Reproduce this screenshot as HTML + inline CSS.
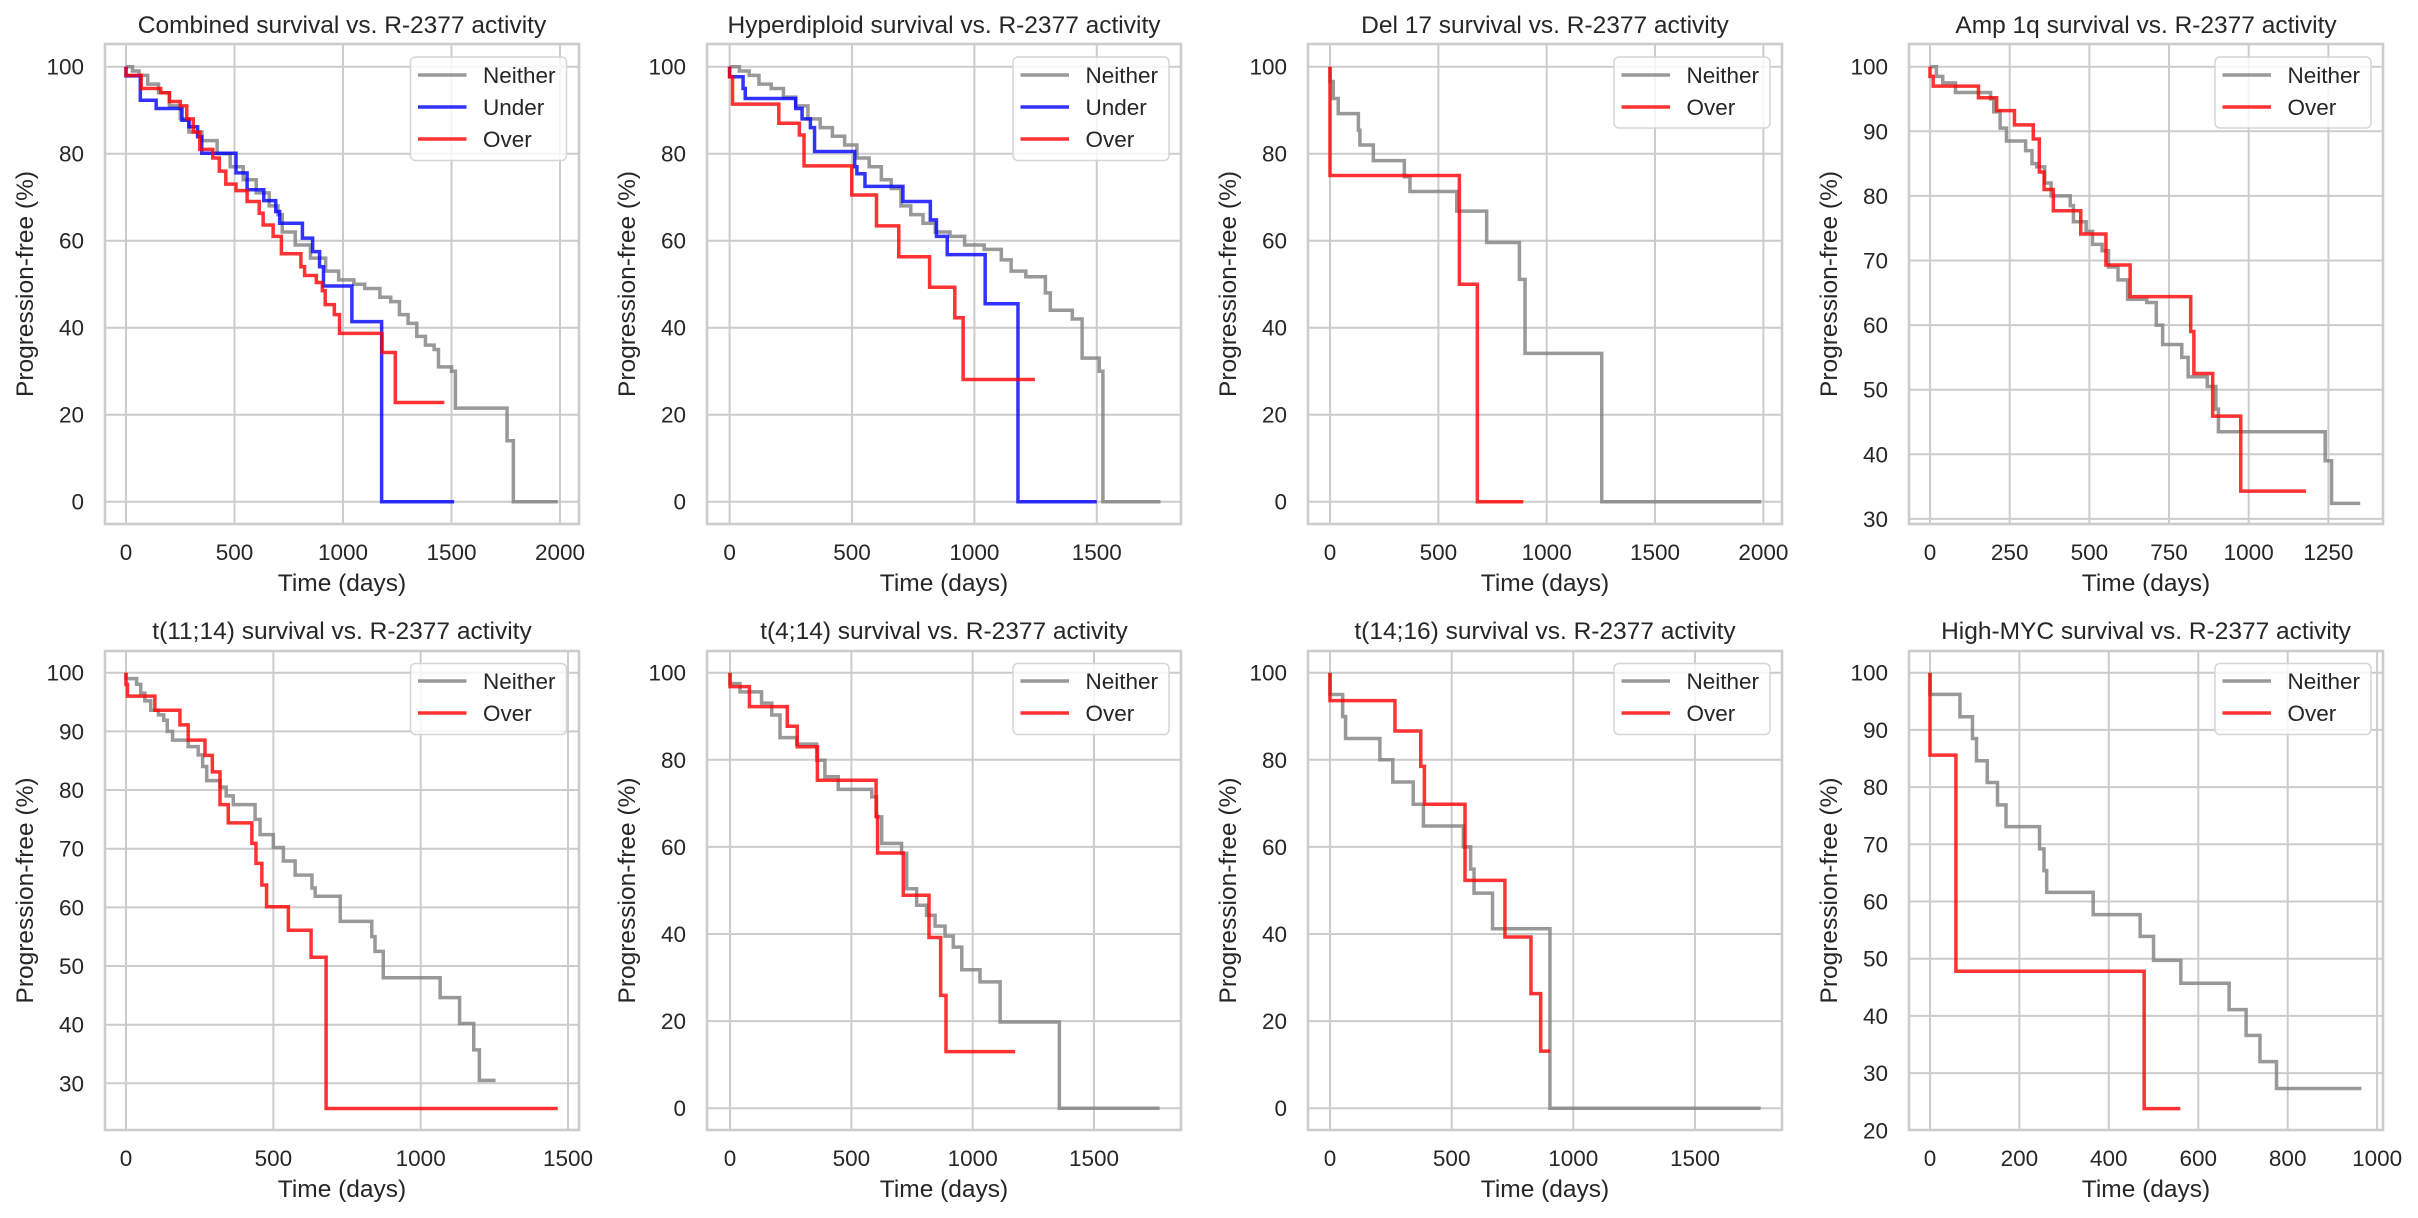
<!DOCTYPE html>
<html><head><meta charset="utf-8"><style>
html,body{margin:0;padding:0;background:#fff;}
svg{display:block;}
text{font-family:"Liberation Sans",Arial,sans-serif;fill:#262626;}
.t{font-size:24.5px;text-anchor:middle;}
.xl{font-size:24.5px;text-anchor:middle;}
.xt{font-size:22.5px;text-anchor:middle;}
.yt{font-size:22.5px;text-anchor:end;}
.lg{font-size:22.5px;}
.g line{stroke:#cccccc;stroke-width:2;}
.fr{fill:none;stroke:#cccccc;stroke-width:2.6;}
.c{fill:none;stroke-width:3.5;stroke-opacity:0.8;vector-effect:non-scaling-stroke;}
.gr{stroke:#808080;} .bl{stroke:#0000ff;} .rd{stroke:#ff0000;}
.lb{fill:#fff;fill-opacity:0.8;stroke:#d6d6d6;stroke-width:1.5;}
.h{stroke-width:3.5;stroke-opacity:0.8;}
</style></head><body>
<svg width="2418" height="1218" viewBox="0 0 2418 1218" xmlns="http://www.w3.org/2000/svg">
<rect width="2418" height="1218" fill="#fff"/>

<!-- ================= P1 ================= -->
<g class="g">
<line x1="126" y1="44" x2="126" y2="524"/><line x1="234.5" y1="44" x2="234.5" y2="524"/><line x1="343" y1="44" x2="343" y2="524"/><line x1="451.5" y1="44" x2="451.5" y2="524"/><line x1="560" y1="44" x2="560" y2="524"/>
<line x1="105" y1="66.7" x2="579" y2="66.7"/><line x1="105" y1="153.7" x2="579" y2="153.7"/><line x1="105" y1="240.7" x2="579" y2="240.7"/><line x1="105" y1="327.7" x2="579" y2="327.7"/><line x1="105" y1="414.7" x2="579" y2="414.7"/><line x1="105" y1="501.7" x2="579" y2="501.7"/>
</g>
<g transform="translate(126,501.7) scale(0.217,4.35)">
<path class="c gr" d="M0,-100 H30 V-99 H60 V-98 H100 V-96 H150 V-94 H200 V-91 H250 V-88 H290 V-85 H350 V-83 H420 V-80 H480 V-77 H540 V-74 H600 V-71 H660 V-68 H700 V-66 H720 V-62 H780 V-59 H850 V-56 H920 V-53 H980 V-51 H1050 V-50 H1100 V-49 H1170 V-47 H1220 V-46 H1260 V-43 H1300 V-41 H1340 V-38 H1380 V-36 H1420 V-35 H1440 V-31 H1500 V-30 H1518 V-21.5 H1756 V-14 H1785 V0 H1990"/>
<path class="c bl" d="M0,-100 V-97.9 H66 V-92.3 H139 V-90.4 H258 V-87.7 H290 V-86.2 H330 V-83.9 H349 V-80.1 H507 V-75.6 H558 V-71.7 H635 V-69.2 H690 V-66.7 H708 V-64 H813 V-60.6 H860 V-57.5 H892 V-54 H910 V-49.6 H1041 V-41.4 H1178 V0 H1512"/>
<path class="c rd" d="M0,-100 V-98 H70 V-95 H160 V-94 H200 V-92 H250 V-91 H280 V-88 H310 V-85 H340 V-81 H400 V-79 H430 V-76 H460 V-73 H507 V-71.5 H558 V-69 H614 V-66.3 H632 V-63.6 H678 V-61 H716 V-57 H806 V-54 H823 V-52 H877 V-50.4 H905 V-48.5 H918 V-45.3 H960 V-43 H984 V-38.7 H1180 V-34.3 H1241 V-22.8 H1467"/>
</g>
<rect class="fr" x="105" y="44" width="474" height="480"/>
<rect class="lb" x="410.5" y="57" width="156" height="103.5" rx="5"/>
<line class="h" x1="418" y1="75" x2="466.5" y2="75" stroke="#808080"/><text class="lg" x="483" y="83">Neither</text>
<line class="h" x1="418" y1="107" x2="466.5" y2="107" stroke="#0000ff"/><text class="lg" x="483" y="115">Under</text>
<line class="h" x1="418" y1="139" x2="466.5" y2="139" stroke="#ff0000"/><text class="lg" x="483" y="147">Over</text>
<text class="t" x="342" y="33">Combined survival vs. R-2377 activity</text>
<text class="xt" x="126" y="560">0</text><text class="xt" x="234.5" y="560">500</text><text class="xt" x="343" y="560">1000</text><text class="xt" x="451.5" y="560">1500</text><text class="xt" x="560" y="560">2000</text>
<text class="yt" x="84" y="74.7">100</text><text class="yt" x="84" y="161.7">80</text><text class="yt" x="84" y="248.7">60</text><text class="yt" x="84" y="335.7">40</text><text class="yt" x="84" y="422.7">20</text><text class="yt" x="84" y="509.7">0</text>
<text class="xl" x="342" y="591">Time (days)</text>
<text class="xl" transform="translate(33,284) rotate(-90)">Progression-free (%)</text>

<!-- ================= P2 ================= -->
<g class="g">
<line x1="729.6" y1="44" x2="729.6" y2="524"/><line x1="852" y1="44" x2="852" y2="524"/><line x1="974.4" y1="44" x2="974.4" y2="524"/><line x1="1096.8" y1="44" x2="1096.8" y2="524"/>
<line x1="707" y1="66.7" x2="1181" y2="66.7"/><line x1="707" y1="153.7" x2="1181" y2="153.7"/><line x1="707" y1="240.7" x2="1181" y2="240.7"/><line x1="707" y1="327.7" x2="1181" y2="327.7"/><line x1="707" y1="414.7" x2="1181" y2="414.7"/><line x1="707" y1="501.7" x2="1181" y2="501.7"/>
</g>
<g transform="translate(729.6,501.7) scale(0.2448,4.35)">
<path class="c gr" d="M0,-100 H40 V-99 H80 V-98 H120 V-96 H170 V-95 H220 V-93 H270 V-91 H320 V-88 H370 V-86 H420 V-84 H470 V-82 H520 V-79 H570 V-77 H620 V-74 H660 V-72 H700 V-68 H740 V-66 H790 V-64 H840 V-62 H900 V-61 H960 V-59 H1040 V-58 H1110 V-55.6 H1150 V-53 H1210 V-51.7 H1290 V-48 H1310 V-44 H1400 V-42 H1440 V-33 H1510 V-30 H1525 V0 H1760"/>
<path class="c bl" d="M0,-100 V-97.7 H55 V-95 H64 V-92.7 H270 V-90.4 H296 V-88 H330 V-86 H347 V-80.5 H511 V-77 H520 V-75.4 H553 V-72.5 H708 V-69 H820 V-64.8 H845 V-61 H889 V-56.8 H1044 V-45.5 H1178 V0 H1500"/>
<path class="c rd" d="M0,-100 V-97.7 H12 V-91.4 H201 V-87 H285 V-84.3 H304 V-77.2 H499 V-70.5 H600 V-63.4 H691 V-56.3 H817 V-49.3 H920 V-42.3 H954 V-28.1 H1247"/>
</g>
<rect class="fr" x="707" y="44" width="474" height="480"/>
<rect class="lb" x="1013" y="57" width="156" height="103.5" rx="5"/>
<line class="h" x1="1020.5" y1="75" x2="1069" y2="75" stroke="#808080"/><text class="lg" x="1085.5" y="83">Neither</text>
<line class="h" x1="1020.5" y1="107" x2="1069" y2="107" stroke="#0000ff"/><text class="lg" x="1085.5" y="115">Under</text>
<line class="h" x1="1020.5" y1="139" x2="1069" y2="139" stroke="#ff0000"/><text class="lg" x="1085.5" y="147">Over</text>
<text class="t" x="944" y="33">Hyperdiploid survival vs. R-2377 activity</text>
<text class="xt" x="729.6" y="560">0</text><text class="xt" x="852" y="560">500</text><text class="xt" x="974.4" y="560">1000</text><text class="xt" x="1096.8" y="560">1500</text>
<text class="yt" x="686" y="74.7">100</text><text class="yt" x="686" y="161.7">80</text><text class="yt" x="686" y="248.7">60</text><text class="yt" x="686" y="335.7">40</text><text class="yt" x="686" y="422.7">20</text><text class="yt" x="686" y="509.7">0</text>
<text class="xl" x="944" y="591">Time (days)</text>
<text class="xl" transform="translate(635,284) rotate(-90)">Progression-free (%)</text>

<!-- ================= P3 ================= -->
<g class="g">
<line x1="1330" y1="44" x2="1330" y2="524"/><line x1="1438.4" y1="44" x2="1438.4" y2="524"/><line x1="1546.7" y1="44" x2="1546.7" y2="524"/><line x1="1655" y1="44" x2="1655" y2="524"/><line x1="1763.4" y1="44" x2="1763.4" y2="524"/>
<line x1="1308" y1="66.7" x2="1782" y2="66.7"/><line x1="1308" y1="153.7" x2="1782" y2="153.7"/><line x1="1308" y1="240.7" x2="1782" y2="240.7"/><line x1="1308" y1="327.7" x2="1782" y2="327.7"/><line x1="1308" y1="414.7" x2="1782" y2="414.7"/><line x1="1308" y1="501.7" x2="1782" y2="501.7"/>
</g>
<g transform="translate(1330,501.7) scale(0.2167,4.35)">
<path class="c gr" d="M0,-100 V-96.6 H15 V-92.7 H38 V-89.2 H131 V-85.4 H138 V-82 H200 V-78.4 H343 V-74.7 H369 V-71.3 H585 V-66.8 H723 V-59.6 H874 V-51.1 H900 V-34.1 H1254 V0 H1990"/>
<path class="c rd" d="M0,-100 V-75 H597 V-50 H680 V0 H892"/>
</g>
<rect class="fr" x="1308" y="44" width="474" height="480"/>
<rect class="lb" x="1614" y="57" width="156" height="71" rx="5"/>
<line class="h" x1="1621.5" y1="75" x2="1670" y2="75" stroke="#808080"/><text class="lg" x="1686.5" y="83">Neither</text>
<line class="h" x1="1621.5" y1="107" x2="1670" y2="107" stroke="#ff0000"/><text class="lg" x="1686.5" y="115">Over</text>
<text class="t" x="1545" y="33">Del 17 survival vs. R-2377 activity</text>
<text class="xt" x="1330" y="560">0</text><text class="xt" x="1438.4" y="560">500</text><text class="xt" x="1546.7" y="560">1000</text><text class="xt" x="1655" y="560">1500</text><text class="xt" x="1763.4" y="560">2000</text>
<text class="yt" x="1287" y="74.7">100</text><text class="yt" x="1287" y="161.7">80</text><text class="yt" x="1287" y="248.7">60</text><text class="yt" x="1287" y="335.7">40</text><text class="yt" x="1287" y="422.7">20</text><text class="yt" x="1287" y="509.7">0</text>
<text class="xl" x="1545" y="591">Time (days)</text>
<text class="xl" transform="translate(1236,284) rotate(-90)">Progression-free (%)</text>

<!-- ================= P4 ================= -->
<g class="g">
<line x1="1930" y1="44" x2="1930" y2="524"/><line x1="2009.7" y1="44" x2="2009.7" y2="524"/><line x1="2089.4" y1="44" x2="2089.4" y2="524"/><line x1="2169" y1="44" x2="2169" y2="524"/><line x1="2248.7" y1="44" x2="2248.7" y2="524"/><line x1="2328.4" y1="44" x2="2328.4" y2="524"/>
<line x1="1909" y1="66.7" x2="2383" y2="66.7"/><line x1="1909" y1="131.3" x2="2383" y2="131.3"/><line x1="1909" y1="195.9" x2="2383" y2="195.9"/><line x1="1909" y1="260.5" x2="2383" y2="260.5"/><line x1="1909" y1="325.1" x2="2383" y2="325.1"/><line x1="1909" y1="389.7" x2="2383" y2="389.7"/><line x1="1909" y1="454.3" x2="2383" y2="454.3"/><line x1="1909" y1="518.9" x2="2383" y2="518.9"/>
</g>
<g transform="translate(1930,712.7) scale(0.3187,6.46)">
<path class="c gr" d="M0,-100 H20 V-98.5 H40 V-97.5 H80 V-96 H190 V-95 H200 V-93 H220 V-90.5 H240 V-88.5 H300 V-87 H320 V-85 H335 V-84.5 H360 V-82 H380 V-80 H440 V-78.5 H450 V-76 H490 V-74.5 H510 V-72.5 H540 V-71.5 H560 V-69 H590 V-67 H620 V-64 H680 V-63.5 H710 V-60 H730 V-57 H790 V-55 H810 V-52 H870 V-50.5 H897 V-47 H905 V-43.5 H1240 V-39 H1260 V-32.4 H1350"/>
<path class="c rd" d="M0,-100 V-98.5 H10 V-97 H152 V-95.2 H209 V-93.2 H265 V-91 H324 V-88.8 H343 V-83.7 H358 V-81 H387 V-77.7 H473 V-74.1 H552 V-69.3 H628 V-64.4 H818 V-59 H828 V-52.5 H887 V-45.9 H975 V-34.3 H1180"/>
</g>
<rect class="fr" x="1909" y="44" width="474" height="480"/>
<rect class="lb" x="2215" y="57" width="156" height="71" rx="5"/>
<line class="h" x1="2222.5" y1="75" x2="2271" y2="75" stroke="#808080"/><text class="lg" x="2287.5" y="83">Neither</text>
<line class="h" x1="2222.5" y1="107" x2="2271" y2="107" stroke="#ff0000"/><text class="lg" x="2287.5" y="115">Over</text>
<text class="t" x="2146" y="33">Amp 1q survival vs. R-2377 activity</text>
<text class="xt" x="1930" y="560">0</text><text class="xt" x="2009.7" y="560">250</text><text class="xt" x="2089.4" y="560">500</text><text class="xt" x="2169" y="560">750</text><text class="xt" x="2248.7" y="560">1000</text><text class="xt" x="2328.4" y="560">1250</text>
<text class="yt" x="1888" y="74.7">100</text><text class="yt" x="1888" y="139.3">90</text><text class="yt" x="1888" y="203.9">80</text><text class="yt" x="1888" y="268.5">70</text><text class="yt" x="1888" y="333.1">60</text><text class="yt" x="1888" y="397.7">50</text><text class="yt" x="1888" y="462.3">40</text><text class="yt" x="1888" y="526.9">30</text>
<text class="xl" x="2146" y="591">Time (days)</text>
<text class="xl" transform="translate(1837,284) rotate(-90)">Progression-free (%)</text>

<!-- ================= P5 ================= -->
<g class="g">
<line x1="126" y1="651" x2="126" y2="1130"/><line x1="273.4" y1="651" x2="273.4" y2="1130"/><line x1="420.7" y1="651" x2="420.7" y2="1130"/><line x1="568" y1="651" x2="568" y2="1130"/>
<line x1="105" y1="672.7" x2="579" y2="672.7"/><line x1="105" y1="731.4" x2="579" y2="731.4"/><line x1="105" y1="790" x2="579" y2="790"/><line x1="105" y1="848.7" x2="579" y2="848.7"/><line x1="105" y1="907.4" x2="579" y2="907.4"/><line x1="105" y1="966" x2="579" y2="966"/><line x1="105" y1="1024.7" x2="579" y2="1024.7"/><line x1="105" y1="1083.3" x2="579" y2="1083.3"/>
</g>
<g transform="translate(126,1259.3) scale(0.2947,5.866)">
<path class="c gr" d="M0,-100 V-99 H36 V-98 H50 V-96.5 H64 V-95.2 H84 V-93.6 H110 V-92.8 H128 V-91.9 H140 V-90 H158 V-88.5 H211 V-87.4 H245 V-86 H260 V-84 H274 V-81.6 H319 V-80.5 H340 V-79 H364 V-77.5 H438 V-75 H455 V-72.4 H500 V-70.2 H534 V-67.9 H574 V-65.5 H631 V-63.3 H642 V-61.9 H727 V-57.6 H834 V-55 H845 V-52.5 H873 V-48 H1066 V-44.6 H1132 V-40.2 H1180 V-35.7 H1199 V-30.5 H1254"/>
<path class="c rd" d="M0,-100 V-98 H5 V-96 H98 V-93.6 H183 V-91.1 H211 V-88.5 H268 V-85.9 H293 V-83.1 H319 V-77.5 H347 V-74.4 H427 V-70.9 H441 V-67.5 H461 V-63.8 H477 V-60.1 H551 V-56.1 H628 V-51.5 H679 V-25.7 H1465"/>
</g>
<rect class="fr" x="105" y="651" width="474" height="479"/>
<rect class="lb" x="410.5" y="663.5" width="156" height="71" rx="5"/>
<line class="h" x1="418" y1="681" x2="466.5" y2="681" stroke="#808080"/><text class="lg" x="483" y="689">Neither</text>
<line class="h" x1="418" y1="713" x2="466.5" y2="713" stroke="#ff0000"/><text class="lg" x="483" y="721">Over</text>
<text class="t" x="342" y="639">t(11;14) survival vs. R-2377 activity</text>
<text class="xt" x="126" y="1166">0</text><text class="xt" x="273.4" y="1166">500</text><text class="xt" x="420.7" y="1166">1000</text><text class="xt" x="568" y="1166">1500</text>
<text class="yt" x="84" y="680.7">100</text><text class="yt" x="84" y="739.4">90</text><text class="yt" x="84" y="798">80</text><text class="yt" x="84" y="856.7">70</text><text class="yt" x="84" y="915.4">60</text><text class="yt" x="84" y="974">50</text><text class="yt" x="84" y="1032.7">40</text><text class="yt" x="84" y="1091.3">30</text>
<text class="xl" x="342" y="1197">Time (days)</text>
<text class="xl" transform="translate(33,890.5) rotate(-90)">Progression-free (%)</text>

<!-- ================= P6 ================= -->
<g class="g">
<line x1="730" y1="651" x2="730" y2="1130"/><line x1="851.4" y1="651" x2="851.4" y2="1130"/><line x1="972.7" y1="651" x2="972.7" y2="1130"/><line x1="1094" y1="651" x2="1094" y2="1130"/>
<line x1="707" y1="672.7" x2="1181" y2="672.7"/><line x1="707" y1="759.8" x2="1181" y2="759.8"/><line x1="707" y1="846.9" x2="1181" y2="846.9"/><line x1="707" y1="934" x2="1181" y2="934"/><line x1="707" y1="1021.1" x2="1181" y2="1021.1"/><line x1="707" y1="1108.2" x2="1181" y2="1108.2"/>
</g>
<g transform="translate(730,1108.2) scale(0.2427,4.355)">
<path class="c gr" d="M0,-100 V-97.5 H41 V-95.6 H130 V-93 H172 V-90.3 H206 V-85.1 H275 V-83.6 H357 V-79.9 H391 V-76.1 H446 V-73.2 H584 V-71.5 H604 V-66.9 H625 V-60.8 H707 V-58.5 H728 V-50.4 H769 V-46.6 H810 V-44.3 H845 V-41.8 H886 V-39.5 H920 V-37 H955 V-31.8 H1030 V-29 H1113 V-19.8 H1357 V0 H1770"/>
<path class="c rd" d="M0,-100 V-96.8 H80 V-92.2 H236 V-87.7 H277 V-83 H360 V-75.3 H602 V-67 H608 V-58.6 H714 V-48.9 H820 V-39.2 H868 V-25.9 H890 V-13 H1175"/>
</g>
<rect class="fr" x="707" y="651" width="474" height="479"/>
<rect class="lb" x="1013" y="663.5" width="156" height="71" rx="5"/>
<line class="h" x1="1020.5" y1="681" x2="1069" y2="681" stroke="#808080"/><text class="lg" x="1085.5" y="689">Neither</text>
<line class="h" x1="1020.5" y1="713" x2="1069" y2="713" stroke="#ff0000"/><text class="lg" x="1085.5" y="721">Over</text>
<text class="t" x="944" y="639">t(4;14) survival vs. R-2377 activity</text>
<text class="xt" x="730" y="1166">0</text><text class="xt" x="851.4" y="1166">500</text><text class="xt" x="972.7" y="1166">1000</text><text class="xt" x="1094" y="1166">1500</text>
<text class="yt" x="686" y="680.7">100</text><text class="yt" x="686" y="767.8">80</text><text class="yt" x="686" y="854.9">60</text><text class="yt" x="686" y="942">40</text><text class="yt" x="686" y="1029.1">20</text><text class="yt" x="686" y="1116.2">0</text>
<text class="xl" x="944" y="1197">Time (days)</text>
<text class="xl" transform="translate(635,890.5) rotate(-90)">Progression-free (%)</text>

<!-- ================= P7 ================= -->
<g class="g">
<line x1="1330" y1="651" x2="1330" y2="1130"/><line x1="1451.7" y1="651" x2="1451.7" y2="1130"/><line x1="1573.3" y1="651" x2="1573.3" y2="1130"/><line x1="1695" y1="651" x2="1695" y2="1130"/>
<line x1="1308" y1="672.7" x2="1782" y2="672.7"/><line x1="1308" y1="759.8" x2="1782" y2="759.8"/><line x1="1308" y1="846.9" x2="1782" y2="846.9"/><line x1="1308" y1="934" x2="1782" y2="934"/><line x1="1308" y1="1021.1" x2="1782" y2="1021.1"/><line x1="1308" y1="1108.2" x2="1782" y2="1108.2"/>
</g>
<g transform="translate(1330,1108.2) scale(0.2433,4.355)">
<path class="c gr" d="M0,-100 V-95 H52 V-89.9 H64 V-84.9 H205 V-80 H258 V-74.9 H342 V-69.8 H384 V-64.8 H548 V-60 H578 V-54.9 H592 V-49.4 H668 V-41.2 H904 V0 H1770"/>
<path class="c rd" d="M0,-100 V-93.6 H267 V-86.6 H373 V-78.5 H388 V-69.8 H555 V-52.3 H719 V-39.3 H826 V-26.3 H866 V-13.1 H905"/>
</g>
<rect class="fr" x="1308" y="651" width="474" height="479"/>
<rect class="lb" x="1614" y="663.5" width="156" height="71" rx="5"/>
<line class="h" x1="1621.5" y1="681" x2="1670" y2="681" stroke="#808080"/><text class="lg" x="1686.5" y="689">Neither</text>
<line class="h" x1="1621.5" y1="713" x2="1670" y2="713" stroke="#ff0000"/><text class="lg" x="1686.5" y="721">Over</text>
<text class="t" x="1545" y="639">t(14;16) survival vs. R-2377 activity</text>
<text class="xt" x="1330" y="1166">0</text><text class="xt" x="1451.7" y="1166">500</text><text class="xt" x="1573.3" y="1166">1000</text><text class="xt" x="1695" y="1166">1500</text>
<text class="yt" x="1287" y="680.7">100</text><text class="yt" x="1287" y="767.8">80</text><text class="yt" x="1287" y="854.9">60</text><text class="yt" x="1287" y="942">40</text><text class="yt" x="1287" y="1029.1">20</text><text class="yt" x="1287" y="1116.2">0</text>
<text class="xl" x="1545" y="1197">Time (days)</text>
<text class="xl" transform="translate(1236,890.5) rotate(-90)">Progression-free (%)</text>

<!-- ================= P8 ================= -->
<g class="g">
<line x1="1930" y1="651" x2="1930" y2="1130"/><line x1="2019.4" y1="651" x2="2019.4" y2="1130"/><line x1="2108.8" y1="651" x2="2108.8" y2="1130"/><line x1="2198.3" y1="651" x2="2198.3" y2="1130"/><line x1="2287.7" y1="651" x2="2287.7" y2="1130"/><line x1="2377.1" y1="651" x2="2377.1" y2="1130"/>
<line x1="1909" y1="672.7" x2="2383" y2="672.7"/><line x1="1909" y1="729.9" x2="2383" y2="729.9"/><line x1="1909" y1="787.1" x2="2383" y2="787.1"/><line x1="1909" y1="844.3" x2="2383" y2="844.3"/><line x1="1909" y1="901.5" x2="2383" y2="901.5"/><line x1="1909" y1="958.7" x2="2383" y2="958.7"/><line x1="1909" y1="1015.9" x2="2383" y2="1015.9"/><line x1="1909" y1="1073.1" x2="2383" y2="1073.1"/>
</g>
<g transform="translate(1930,1244.7) scale(0.4471,5.72)">
<path class="c gr" d="M0,-100 V-96.2 H67 V-92.3 H95 V-88.5 H104 V-84.6 H128 V-80.8 H151 V-76.9 H170 V-73.1 H245 V-69.2 H255 V-65.4 H261 V-61.6 H365 V-57.7 H470 V-53.9 H500 V-49.7 H561 V-45.7 H669 V-41.1 H707 V-36.6 H738 V-32 H775 V-27.3 H965"/>
<path class="c rd" d="M0,-100 V-85.6 H58 V-47.8 H479 V-23.8 H560"/>
</g>
<rect class="fr" x="1909" y="651" width="474" height="479"/>
<rect class="lb" x="2215" y="663.5" width="156" height="71" rx="5"/>
<line class="h" x1="2222.5" y1="681" x2="2271" y2="681" stroke="#808080"/><text class="lg" x="2287.5" y="689">Neither</text>
<line class="h" x1="2222.5" y1="713" x2="2271" y2="713" stroke="#ff0000"/><text class="lg" x="2287.5" y="721">Over</text>
<text class="t" x="2146" y="639">High-MYC survival vs. R-2377 activity</text>
<text class="xt" x="1930" y="1166">0</text><text class="xt" x="2019.4" y="1166">200</text><text class="xt" x="2108.8" y="1166">400</text><text class="xt" x="2198.3" y="1166">600</text><text class="xt" x="2287.7" y="1166">800</text><text class="xt" x="2377.1" y="1166">1000</text>
<text class="yt" x="1888" y="680.7">100</text><text class="yt" x="1888" y="737.9">90</text><text class="yt" x="1888" y="795.1">80</text><text class="yt" x="1888" y="852.3">70</text><text class="yt" x="1888" y="909.5">60</text><text class="yt" x="1888" y="966.7">50</text><text class="yt" x="1888" y="1023.9">40</text><text class="yt" x="1888" y="1081.1">30</text><text class="yt" x="1888" y="1138.3">20</text>
<text class="xl" x="2146" y="1197">Time (days)</text>
<text class="xl" transform="translate(1837,890.5) rotate(-90)">Progression-free (%)</text>
</svg>
</body></html>
